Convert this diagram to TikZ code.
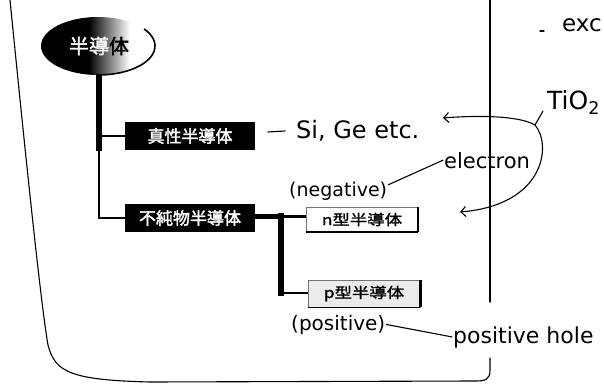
\documentclass[tikz,border=0pt]{standalone}
\usepackage{fontspec}
\setmainfont{DejaVu Sans}
\newfontfamily\jpell{Noto Sans CJK JP}[FakeBold=2]
\newfontfamily\jpdark{Noto Sans CJK JP}[FakeBold=2]
\newfontfamily\jplite{Noto Sans CJK JP}[FakeBold=1.5,FakeStretch=1.2]
\usetikzlibrary{arrows.meta,calc}
\tikzset{
  hand/.style={line width=1.1pt,line cap=round,line join=round},
  hw/.style={inner sep=1pt,anchor=base west},
  darkbox/.style={fill=black,text=white,font=\jpdark\fontsize{17}{17}\selectfont,
    minimum width=130pt,minimum height=28pt,inner sep=0pt},
  litebox/.style={draw=black!55,line width=0.5pt,text=black,
    font=\jplite\fontsize{14.5}{14.5}\selectfont,inner sep=0pt},
  tipb/.style={-{Straight Barb[length=5pt,width=10pt]}}
}
\begin{document}
\begin{tikzpicture}[x=1pt,y=-1pt]
\useasboundingbox (0,0) rectangle (604,385);
\fill[white] (0,0) rectangle (604,385);

% frame
\draw[hand] (490,0) -- (490,302);
\draw[hand] (490,358) -- (490,370) .. controls (490,380) and (485,381) .. (475,381)
  -- (150,382) .. controls (70,380) and (55,372) .. (48,345)
  .. controls (40,300) and (20,100) .. (10,0);

% ellipse
\begin{scope}
  \clip (98,46) ellipse [x radius=57, y radius=29];
  \fill[black] (40,15) rectangle (90,77);
  \shade[left color=black,right color=white] (89,15) rectangle (130,77);
\end{scope}
\draw[line width=1.6pt] (98,46) ++(-36:57 and 29) arc[start angle=-36,end angle=90,x radius=57,y radius=29];
\node[font=\jpell\fontsize{20}{20}\selectfont,inner sep=0pt] (ell) at (99,46) {\textcolor{white}{半導}体};

% boxes
\node[darkbox] (b1) at (190,136) {真性半導体};
\node[darkbox] (b2) at (190,218) {不純物半導体};
\node[litebox,fill=white,minimum width=111pt,minimum height=25pt] (b3) at (362,219.5) {n型半導体};
\node[litebox,fill=black!8,minimum width=112pt,minimum height=27pt] (b4) at (364,293.5) {p型半導体};
\draw[line width=2.5pt] (b3.north east) -- (b3.south east);
\draw[line width=2pt] (b3.south east) -- (b3.south west);
\draw[line width=2.5pt] (b4.north east) -- (b4.south east);
\draw[line width=1.2pt] (b4.south east) -- (b4.south west);

% tree connectors
\coordinate (t0) at (99,74);
\coordinate (t1) at (99,151);
\draw[line width=6pt] (t0) -- (t1);
\draw[line width=1.3pt] (t1) |- (b2.west);
\draw[line width=2pt] (t0|-b1.west) -- (b1.west);
\coordinate (j) at (281,216);
\coordinate (k) at (281,293);
\draw[line width=5pt] (b2.east|-j) -- (j);
\draw[line width=3pt] (j) -- (b3.west|-j);
\draw[line width=6pt,line cap=rect] (j) -- (k);
\draw[line width=1.3pt] (k) -- (b4.west|-k);

% handwritten notes
\node[hw,font=\fontsize{24}{24}\selectfont] (sige) at (295,138) {Si, Ge etc.};
\coordinate (d1) at (268,132);
\coordinate (d2) at (285,131);
\draw[hand] (d1) -- (d2);

\node[hw,font=\fontsize{19}{19}\selectfont] (neg) at (288,196) {(negative)};
\node[hw,font=\fontsize{21}{21}\selectfont] (elec) at (443,168) {electron};
\draw[hand] ($(neg.east)+(0,-6)$) -- (elec.west);

\node[hw,font=\fontsize{25}{25}\selectfont] (tio) at (546,110) {TiO\textsubscript{2}};
\node[hw,font=\fontsize{23}{23}\selectfont] (exc) at (561,32) {exc};
\coordinate (m1) at (540,31);
\coordinate (m2) at (544,31);
\draw[hand] (m1) -- (m2);

\coordinate (s0) at (543,111);
\coordinate (s1) at (535,125);
\coordinate (a1) at (443,118);
\coordinate (a2) at (460,212);
\draw[hand] (s0) -- (s1);
\draw[hand,tipb] (s1) .. controls (520,116) and (480,115) .. (a1);
\draw[hand,tipb] (s1) .. controls (552,145) and (545,205) .. (a2);

\node[hw,font=\fontsize{20}{20}\selectfont] (pos) at (290,330) {(positive)};
\node[hw,font=\fontsize{22}{22}\selectfont] (hole) at (452,343) {positive hole};
\draw[hand] (pos.east) -- (hole.west);
\end{tikzpicture}
\end{document}
